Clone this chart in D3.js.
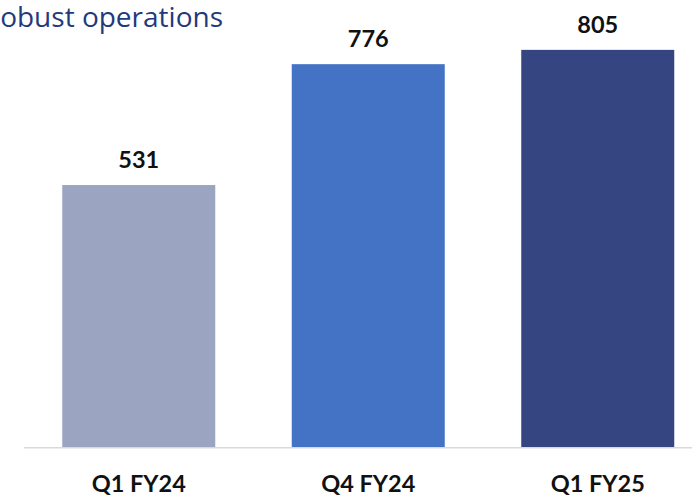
<!DOCTYPE html>
<html>
<head>
<meta charset="utf-8">
<script src="https://cdn.jsdelivr.net/npm/d3@7"></script>
<style>
  html, body { margin: 0; padding: 0; background: #fff; }
  svg { display: block; }
</style>
</head>
<body>
<svg id="chart" width="692" height="500"></svg>
<script>
const categories = ["Q1 FY24", "Q4 FY24", "Q1 FY25"];
const values = [531, 776, 805];
const barColors = ["#9BA5C2", "#4472C4", "#344581"];
const title = "Robust operations";

const svg = d3.select("#chart");

const x = d3.scaleBand()
  .domain(categories)
  .range([24, 712.5])
  .paddingInner(1 / 3)
  .paddingOuter(1 / 6);

const y = d3.scaleLinear()
  .domain([0, 900])
  .range([447, 3]);

// Title (runs off the left edge of the slide)
svg.append("text")
  .attr("x", 223)
  .attr("y", 27)
  .attr("text-anchor", "end")
  .attr("font-family", "'Open Sans', 'Noto Sans', sans-serif")
  .attr("font-size", 28)
  .attr("fill", "#1F3A7D")
  .text(title);

// Bars
svg.selectAll("rect.bar")
  .data(values)
  .join("rect")
  .attr("class", "bar")
  .attr("x", (d, i) => x(categories[i]))
  .attr("width", x.bandwidth())
  .attr("y", d => y(d))
  .attr("height", d => y(0) - y(d))
  .attr("fill", (d, i) => barColors[i]);

// Baseline
svg.append("line")
  .attr("x1", 24)
  .attr("x2", 692)
  .attr("y1", y(0) + 0.75)
  .attr("y2", y(0) + 0.75)
  .attr("stroke", "#D9D9D9")
  .attr("stroke-width", 1.5);

// Value labels
svg.selectAll("text.value")
  .data(values)
  .join("text")
  .attr("class", "value")
  .attr("x", (d, i) => x(categories[i]) + x.bandwidth() / 2)
  .attr("y", d => y(d) - 17)
  .attr("text-anchor", "middle")
  .attr("font-family", "Lato, sans-serif")
  .attr("font-weight", "bold")
  .attr("font-size", 23.5)
  .attr("fill", "#111")
  .text(d => d);

// Category axis labels
const xAxis = d3.axisBottom(x).tickSize(0).tickPadding(0);
const gx = svg.append("g")
  .attr("transform", `translate(0, ${y(0)})`)
  .call(xAxis);
gx.select(".domain").remove();
gx.selectAll("text")
  .attr("dy", null)
  .attr("y", 45)
  .attr("font-family", "Lato, sans-serif")
  .attr("font-weight", "bold")
  .attr("font-size", 23.5)
  .attr("fill", "#111");
</script>
</body>
</html>
